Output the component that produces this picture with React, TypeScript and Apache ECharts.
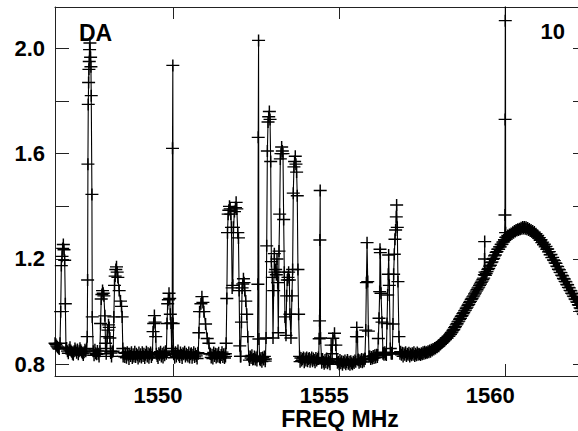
import { useEffect, useRef } from "react";
import * as echarts from "echarts";

// Regular frequency grid of the continuum (MHz) and its intensities
const baseStart = 1546.45;
const baseStep = 0.025;
const baseValues = [
  // 1546.45 – 1547.425
  0.88, 0.876, 0.87, 0.866, 0.862, 0.858, 0.855, 0.86, 0.85, 0.857, 0.86, 0.848, 0.845, 0.858, 0.862, 0.85, 0.842, 0.855, 0.865, 0.852,
  0.848, 0.84, 0.836, 0.85, 0.86, 0.852, 0.844, 0.856, 0.838, 0.85, 0.861, 0.853, 0.848, 0.842, 0.835, 0.846, 0.855, 0.85, 0.862, 0.847,
  // 1547.45 – 1548.425
  0.845, 0.858, 0.84, 0.85, 0.836, 0.852, 0.846, 0.834, 0.855, 0.842, 0.838, 0.851, 0.84, 0.83, 0.848, 0.852, 0.836, 0.845, 0.828, 0.85,
  0.842, 0.835, 0.846, 0.826, 0.84, 0.852, 0.834, 0.843, 0.83, 0.848, 0.836, 0.844, 0.826, 0.84, 0.85, 0.832, 0.845, 0.838, 0.826, 0.845,
  // 1548.45 – 1549.425
  0.835, 0.848, 0.83, 0.844, 0.828, 0.842, 0.825, 0.846, 0.834, 0.82, 0.84, 0.832, 0.846, 0.824, 0.838, 0.83, 0.848, 0.828, 0.84, 0.834,
  0.822, 0.845, 0.83, 0.838, 0.826, 0.846, 0.832, 0.84, 0.824, 0.836, 0.848, 0.83, 0.842, 0.825, 0.838, 0.845, 0.828, 0.836, 0.844, 0.835,
  // 1549.45 – 1550.425
  0.84, 0.828, 0.846, 0.832, 0.824, 0.842, 0.836, 0.848, 0.83, 0.84, 0.826, 0.845, 0.834, 0.85, 0.83, 0.842, 0.828, 0.844, 0.836, 0.826,
  0.84, 0.848, 0.832, 0.838, 0.825, 0.846, 0.83, 0.84, 0.852, 0.834, 0.828, 0.845, 0.836, 0.824, 0.842, 0.838, 0.848, 0.83, 0.84, 0.835,
  // 1550.45 – 1551.425
  0.83, 0.845, 0.826, 0.838, 0.842, 0.825, 0.836, 0.846, 0.828, 0.84, 0.832, 0.822, 0.844, 0.834, 0.826, 0.842, 0.836, 0.82, 0.84, 0.83,
  0.846, 0.826, 0.838, 0.832, 0.824, 0.844, 0.83, 0.84, 0.826, 0.836, 0.822, 0.845, 0.832, 0.84, 0.826, 0.838, 0.83, 0.844, 0.828, 0.825,
  // 1551.45 – 1552.425
  0.835, 0.846, 0.828, 0.838, 0.824, 0.84, 0.832, 0.82, 0.836, 0.826, 0.818, 0.834, 0.826, 0.838, 0.82, 0.83, 0.824, 0.836, 0.816, 0.83,
  0.822, 0.834, 0.826, 0.818, 0.832, 0.824, 0.836, 0.82, 0.828, 0.816, 0.83, 0.822, 0.834, 0.826, 0.816, 0.83, 0.824, 0.834, 0.818, 0.82,
  // 1552.45 – 1553.425
  0.83, 0.818, 0.826, 0.814, 0.828, 0.82, 0.832, 0.815, 0.824, 0.81, 0.826, 0.818, 0.83, 0.812, 0.822, 0.828, 0.816, 0.824, 0.81, 0.826,
  0.818, 0.83, 0.814, 0.822, 0.826, 0.812, 0.824, 0.818, 0.83, 0.814, 0.82, 0.828, 0.812, 0.824, 0.818, 0.826, 0.814, 0.822, 0.828, 0.82,
  // 1553.45 – 1554.425
  0.815, 0.826, 0.812, 0.822, 0.808, 0.824, 0.816, 0.828, 0.81, 0.82, 0.826, 0.812, 0.822, 0.816, 0.828, 0.81, 0.824, 0.814, 0.82, 0.826,
  0.808, 0.822, 0.814, 0.826, 0.812, 0.82, 0.824, 0.81, 0.818, 0.826, 0.812, 0.822, 0.816, 0.808, 0.824, 0.814, 0.82, 0.826, 0.81, 0.82,
  // 1554.45 – 1555.425
  0.815, 0.806, 0.82, 0.81, 0.802, 0.816, 0.808, 0.822, 0.804, 0.814, 0.81, 0.8, 0.818, 0.806, 0.812, 0.802, 0.816, 0.808, 0.798, 0.814,
  0.806, 0.81, 0.8, 0.816, 0.804, 0.812, 0.798, 0.81, 0.806, 0.814, 0.8, 0.808, 0.816, 0.802, 0.81, 0.798, 0.812, 0.804, 0.8, 0.81,
  // 1555.45 – 1556.425
  0.805, 0.814, 0.802, 0.812, 0.808, 0.818, 0.806, 0.815, 0.81, 0.82, 0.808, 0.818, 0.812, 0.822, 0.814, 0.826, 0.816, 0.824, 0.818, 0.83,
  0.82, 0.828, 0.822, 0.832, 0.824, 0.834, 0.826, 0.836, 0.828, 0.838, 0.83, 0.84, 0.832, 0.842, 0.834, 0.844, 0.836, 0.846, 0.838, 0.845,
  // 1556.45 – 1557.425
  0.835, 0.846, 0.838, 0.848, 0.834, 0.844, 0.84, 0.85, 0.836, 0.845, 0.84, 0.852, 0.838, 0.846, 0.834, 0.842, 0.848, 0.836, 0.844, 0.83,
  0.842, 0.836, 0.846, 0.832, 0.84, 0.836, 0.844, 0.83, 0.84, 0.834, 0.842, 0.836, 0.846, 0.832, 0.84, 0.834, 0.845, 0.836, 0.84, 0.838,
  // 1557.45 – 1558.425
  0.835, 0.842, 0.838, 0.846, 0.84, 0.848, 0.842, 0.846, 0.844, 0.85, 0.846, 0.852, 0.848, 0.855, 0.852, 0.858, 0.856, 0.862, 0.86, 0.866,
  0.865, 0.87, 0.869, 0.875, 0.876, 0.881, 0.882, 0.887, 0.888, 0.894, 0.894, 0.9, 0.9, 0.906, 0.906, 0.912, 0.914, 0.92, 0.923, 0.929,
  // 1558.45 – 1559.425
  0.932, 0.939, 0.943, 0.95, 0.954, 0.961, 0.964, 0.971, 0.975, 0.982, 0.985, 0.992, 0.996, 1.003, 1.006, 1.013, 1.017, 1.024, 1.028, 1.035,
  1.039, 1.046, 1.05, 1.056, 1.06, 1.067, 1.071, 1.078, 1.083, 1.089, 1.093, 1.1, 1.105, 1.111, 1.116, 1.122, 1.127, 1.133, 1.138, 1.145,
  // 1559.45 – 1560.425
  1.152, 1.16, 1.164, 1.173, 1.176, 1.186, 1.189, 1.199, 1.202, 1.212, 1.215, 1.225, 1.228, 1.237, 1.237, 1.246, 1.246, 1.255, 1.256, 1.264,
  1.265, 1.273, 1.274, 1.282, 1.283, 1.289, 1.287, 1.293, 1.291, 1.297, 1.295, 1.301, 1.3, 1.306, 1.304, 1.31, 1.308, 1.313, 1.31, 1.315,
  // 1560.45 – 1561.425
  1.313, 1.319, 1.315, 1.321, 1.316, 1.321, 1.315, 1.32, 1.313, 1.318, 1.31, 1.314, 1.306, 1.31, 1.302, 1.306, 1.298, 1.302, 1.293, 1.296,
  1.287, 1.289, 1.279, 1.281, 1.271, 1.273, 1.262, 1.264, 1.254, 1.256, 1.246, 1.248, 1.237, 1.238, 1.227, 1.228, 1.216, 1.217, 1.205, 1.206,
  // 1561.45 – 1562.425
  1.196, 1.194, 1.185, 1.183, 1.173, 1.171, 1.161, 1.159, 1.149, 1.148, 1.138, 1.136, 1.126, 1.124, 1.115, 1.113, 1.103, 1.102, 1.092, 1.09,
  1.081, 1.079, 1.07, 1.068, 1.059, 1.057, 1.048, 1.046, 1.037, 1.035, 1.026, 1.024, 1.014, 1.012, 1.002, 1.0, 0.991, 0.989, 0.979, 0.977,
  // 1562.45
  0.97,
];

// Narrow emission spikes: [freq MHz, intensity]
const spikeA = [[1546.6, 0.88], [1546.62, 1.0], [1546.64, 1.175], [1546.66, 1.21], [1546.68, 1.24], [1546.7, 1.255], [1546.72, 1.235], [1546.74, 1.195], [1546.76, 1.03], [1546.78, 0.86]];
const spikeB = [[1547.4, 0.86], [1547.42, 0.905], [1547.43, 1.12], [1547.44, 1.56], [1547.45, 1.787], [1547.46, 1.87], [1547.47, 1.92], [1547.48, 1.95], [1547.49, 1.995], [1547.5, 2.02], [1547.52, 1.966], [1547.53, 1.93], [1547.54, 1.82], [1547.56, 1.445], [1547.57, 0.98], [1547.6, 0.85]];
const spikeC = [[1547.8, 0.85], [1547.82, 0.955], [1547.84, 1.048], [1547.86, 1.065], [1547.88, 1.08], [1547.9, 1.07], [1547.92, 1.06], [1547.95, 0.984], [1547.97, 0.88], [1547.99, 0.84]];
const spikeD = [[1548.0, 0.86], [1548.02, 0.905], [1548.04, 0.93], [1548.06, 0.95], [1548.08, 0.94], [1548.1, 0.9], [1548.12, 0.85]];
const spikeE = [[1548.2, 0.85], [1548.22, 0.98], [1548.24, 1.1], [1548.26, 1.135], [1548.28, 1.16], [1548.3, 1.17], [1548.32, 1.15], [1548.34, 1.13], [1548.38, 1.08], [1548.42, 1.04], [1548.45, 1.02], [1548.47, 0.98], [1548.49, 0.86]];
const spikeF = [[1549.38, 0.84], [1549.4, 0.924], [1549.42, 0.955], [1549.44, 0.985], [1549.46, 0.96], [1549.48, 0.905], [1549.5, 0.84]];
const spikeG = [[1549.8, 0.84], [1549.82, 0.955], [1549.84, 1.03], [1549.86, 1.045], [1549.88, 1.07], [1549.9, 1.05], [1549.92, 0.99], [1549.94, 0.957], [1549.96, 0.86]];
const spikeH = [[1549.975, 0.85], [1549.985, 1.62], [1549.995, 1.935], [1550.005, 0.955], [1550.02, 0.84]];
const spikeI = [[1550.76, 0.84], [1550.78, 0.92], [1550.8, 1.0], [1550.84, 1.03], [1550.87, 1.057], [1550.9, 1.035], [1550.93, 1.0], [1550.98, 0.953], [1551.03, 0.898], [1551.08, 0.88], [1551.12, 0.84]];
const spikeJ = [[1551.58, 0.83], [1551.6, 0.88], [1551.62, 1.05], [1551.64, 1.3], [1551.66, 1.37], [1551.68, 1.385], [1551.7, 1.4], [1551.72, 1.39], [1551.74, 1.37], [1551.76, 1.32], [1551.78, 1.09], [1551.8, 1.1], [1551.82, 1.32], [1551.85, 1.38], [1551.88, 1.395], [1551.9, 1.415], [1551.92, 1.39], [1551.95, 1.3], [1551.97, 1.28], [1551.99, 1.08], [1552.01, 0.87], [1552.03, 0.83]];
const spikeK = [[1552.04, 0.83], [1552.06, 0.96], [1552.08, 1.09], [1552.1, 1.105], [1552.12, 1.125], [1552.14, 1.11], [1552.16, 1.08], [1552.19, 1.04], [1552.22, 0.99], [1552.25, 0.905], [1552.28, 0.83]];
const spikeL = [[1552.54, 0.83], [1552.555, 1.104], [1552.565, 1.662], [1552.575, 2.03], [1552.585, 0.896], [1552.61, 0.82]];
const spikeM = [[1552.78, 0.82], [1552.8, 0.9], [1552.82, 1.25], [1552.84, 1.61], [1552.86, 1.72], [1552.88, 1.74], [1552.9, 1.76], [1552.92, 1.73], [1552.94, 1.57], [1552.96, 1.19], [1552.99, 1.13], [1553.01, 0.9], [1553.03, 1.08], [1553.05, 1.22], [1553.07, 1.15], [1553.09, 1.16], [1553.11, 1.14], [1553.13, 1.2], [1553.15, 1.11], [1553.17, 0.92], [1553.19, 1.23], [1553.21, 1.37], [1553.23, 1.58], [1553.25, 1.6], [1553.27, 1.625], [1553.29, 1.61], [1553.31, 1.6], [1553.33, 1.35], [1553.35, 1.15], [1553.37, 0.98], [1553.4, 0.91], [1553.42, 1.06], [1553.44, 1.12], [1553.46, 1.13], [1553.48, 1.15], [1553.5, 1.12], [1553.52, 0.99], [1553.55, 0.9], [1553.58, 1.06], [1553.6, 1.16], [1553.62, 1.45], [1553.64, 1.55], [1553.66, 1.57], [1553.68, 1.59], [1553.7, 1.56], [1553.72, 1.53], [1553.74, 1.44], [1553.76, 1.16], [1553.78, 0.99], [1553.81, 0.83]];
const spikeR = [[1554.38, 0.82], [1554.4, 0.897], [1554.41, 0.965], [1554.42, 1.272], [1554.43, 1.46], [1554.44, 0.9], [1554.47, 0.82]];
const spikeS = [[1554.74, 0.82], [1554.76, 0.873], [1554.79, 0.84], [1554.81, 0.899], [1554.86, 0.918], [1554.9, 0.873], [1554.93, 0.82]];
const spikeS2 = [[1555.5, 0.81], [1555.52, 0.905], [1555.53, 0.94], [1555.55, 0.905], [1555.57, 0.815]];
const spikeT = [[1555.78, 0.82], [1555.8, 0.93], [1555.82, 1.11], [1555.84, 1.262], [1555.86, 1.114], [1555.88, 0.926], [1555.9, 0.83]];
const spikeU = [[1556.16, 0.835], [1556.18, 0.898], [1556.2, 0.975], [1556.22, 1.076], [1556.23, 1.237], [1556.24, 1.224], [1556.26, 1.07], [1556.29, 0.96], [1556.32, 0.84]];
const spikeV = [[1556.42, 0.835], [1556.44, 0.955], [1556.46, 1.063], [1556.48, 1.142], [1556.49, 1.215], [1556.51, 1.1], [1556.54, 0.86], [1556.57, 0.84]];
const spikeW = [[1556.6, 0.84], [1556.62, 0.953], [1556.64, 1.142], [1556.66, 1.218], [1556.68, 1.275], [1556.7, 1.31], [1556.72, 1.36], [1556.73, 1.405], [1556.75, 1.32], [1556.77, 1.114], [1556.8, 0.905], [1556.83, 0.84]];
const spikeX = [[1559.37, 1.14], [1559.375, 1.2], [1559.38, 1.266], [1559.39, 1.15]];
const spikeY = [[1559.985, 1.272], [1559.99, 1.367], [1559.995, 1.73], [1560.0, 2.105], [1560.005, 2.3], [1560.01, 1.3], [1560.02, 1.282]];

const xMin = 1546.449;
const xMax = 1562.459;
const yMin = 0.7556;
const yMax = 2.1568;
const xTicks = [1550, 1555, 1560];
const yTicks = [0.8, 1.0, 1.2, 1.4, 1.6, 1.8, 2.0];
const yLabels = [0.8, 1.2, 1.6, 2.0];
const panelLabel = "DA";
const panelNumber = "10";
const xTitle = "FREQ MHz";

const FONT = "'Liberation Sans', Arial, Helvetica, sans-serif";

function buildData(): number[][] {
  const spikes = [spikeA, spikeB, spikeC, spikeD, spikeE, spikeF, spikeG, spikeH, spikeI, spikeJ, spikeK, spikeL, spikeM, spikeR, spikeS, spikeS2, spikeT, spikeU, spikeV, spikeW, spikeX, spikeY];
  const pts: number[][] = [];
  baseValues.forEach((v, i) => {
    const f = Math.round((baseStart + i * baseStep) * 1000) / 1000;
    const inside = spikes.some((s) => f >= s[0][0] && f <= s[s.length - 1][0]);
    if (!inside) pts.push([f, v]);
  });
  spikes.forEach((s) => s.forEach((p) => pts.push([p[0], p[1]])));
  pts.sort((a, b) => a[0] - b[0]);
  return pts;
}

export default function App() {
  const ref = useRef<HTMLDivElement>(null);
  useEffect(() => {
    if (!ref.current) return;
    const chart = echarts.init(ref.current, null, { renderer: "svg" });
    const frame = { show: true, onZero: false, lineStyle: { color: "#222", width: 1 } };
    const xTick = { show: true, inside: true, length: 12, customValues: xTicks, lineStyle: { color: "#222", width: 1 } };
    const yTick = { show: true, inside: true, length: 14, customValues: yTicks, lineStyle: { color: "#222", width: 1 } };
    const labelStyle = { fontSize: 22, fontWeight: "bold", color: "#000", fontFamily: FONT };
    chart.setOption({
      animation: false,
      grid: { left: 55, top: 7, width: 532, height: 369, containLabel: false, outerBoundsMode: "none" },
      xAxis: [
        {
          type: "value", position: "bottom", min: xMin, max: xMax,
          axisLine: frame, axisTick: xTick, splitLine: { show: false },
          axisLabel: { ...labelStyle, customValues: xTicks, margin: 8, padding: [0, 30, 0, 0], formatter: (v: number) => String(Math.round(v)) },
        },
        {
          type: "value", position: "top", min: xMin, max: xMax,
          axisLine: frame, axisTick: xTick, splitLine: { show: false }, axisLabel: { show: false },
        },
      ],
      yAxis: [
        {
          type: "value", position: "left", min: yMin, max: yMax,
          axisLine: frame, axisTick: yTick, splitLine: { show: false },
          axisLabel: { ...labelStyle, customValues: yLabels, margin: 10, formatter: (v: number) => v.toFixed(1) },
        },
        {
          type: "value", position: "right", min: yMin, max: yMax,
          axisLine: frame, axisTick: yTick, splitLine: { show: false }, axisLabel: { show: false },
        },
      ],
      graphic: [
        { type: "text", x: 79, y: 32.5, style: { text: panelLabel, fontSize: 23, fontWeight: "bold", fontFamily: FONT, fill: "#000", align: "left", verticalAlign: "middle" } },
        { type: "text", x: 565, y: 31.5, style: { text: panelNumber, fontSize: 22, fontWeight: "bold", fontFamily: FONT, fill: "#000", align: "right", verticalAlign: "middle" } },
        { type: "text", x: 340, y: 418.5, style: { text: xTitle, fontSize: 23, fontWeight: "bold", fontFamily: FONT, fill: "#000", align: "center", verticalAlign: "middle" } },
      ],
      series: [
        {
          type: "line",
          xAxisIndex: 0,
          yAxisIndex: 0,
          data: buildData(),
          symbol: "path://M0,6H13M6.5,0V12",
          symbolSize: [13, 12],
          showSymbol: true,
          showAllSymbol: true,
          clip: true,
          silent: true,
          lineStyle: { color: "#000", width: 1.1 },
          itemStyle: { color: "#000", borderColor: "#000", borderWidth: 1.4 },
          emphasis: { disabled: true },
        },
      ],
    });
    return () => chart.dispose();
  }, []);
  return <div ref={ref} style={{ position: "fixed", left: 0, top: 0, width: 578, height: 431, background: "#fff" }} />;
}
